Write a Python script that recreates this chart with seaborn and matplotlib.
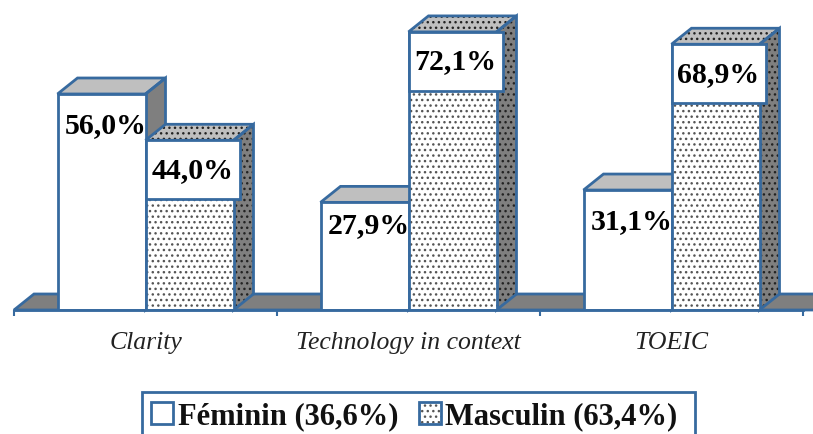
import pandas as pd
import seaborn as sns
import matplotlib.pyplot as plt
from matplotlib.legend_handler import HandlerTuple
from matplotlib.patches import Patch, Polygon, Rectangle

categories = ["Clarity", "Technology in context", "TOEIC"]
feminin = [56.0, 27.9, 31.1]
masculin = [44.0, 72.1, 68.9]
legend_labels = ["Féminin (36,6%)", "Masculin (63,4%)"]

BLUE = "#376A9F"
INK = "#555555"
W, H = 813, 434
PX_X = 263          # pixels per category
PX_Y = 216 / 56.0   # pixels per percent
DX = 20 / PX_X
DY = 16 / PX_Y
DOTS = "..."
LW = 2.0

sns.set_theme(style="white")
plt.rcParams["font.family"] = ["Liberation Serif", "DejaVu Serif"]

df = pd.DataFrame({
    "cat": categories * 2,
    "val": feminin + masculin,
    "genre": ["Féminin"] * 3 + ["Masculin"] * 3,
})

fig = plt.figure(figsize=(W / 100, H / 100), dpi=100)
ax = fig.add_axes([14 / W, (H - 310) / H, 789 / W, 310 / H])

sns.barplot(data=df, x="cat", y="val", hue="genre", order=categories,
            palette=["white", "white"], width=2 * 88 / PX_X, gap=0,
            linewidth=0, edgecolor=INK, legend=False, ax=ax)
ax.set_xlim(-0.5, 2.5)
ax.set_ylim(0, 310 / PX_Y)


def poly(points, color, z, hatch=None):
    ax.add_patch(Polygon(points, closed=True, facecolor=color, edgecolor="#222222",
                         linewidth=0, hatch=hatch, zorder=z, clip_on=False))
    ax.add_patch(Polygon(points, closed=True, fill=False, edgecolor=BLUE,
                         linewidth=LW, joinstyle="miter", zorder=z + 0.1, clip_on=False))


# floor
poly([(-0.5, 0), (-0.5 + DX, DY), (2.5 + 2 * DX, DY), (2.5 + DX, 0)], "#7F7F7F", 1.5)

for level, (cont, hatch) in enumerate(zip(ax.containers, [None, DOTS])):
    z = 2 + 2 * level
    for bar in cont:
        x0, x1, top = bar.get_x(), bar.get_x() + bar.get_width(), bar.get_height()
        poly([(x1, 0), (x1 + DX, DY), (x1 + DX, top + DY), (x1, top)], "#7F7F7F", z, hatch)
        poly([(x0, top), (x0 + DX, top + DY), (x1 + DX, top + DY), (x1, top)], "#BFBFBF", z, hatch)
        bar.set_hatch(hatch)
        bar.set_zorder(z + 0.5)
        ax.add_patch(Rectangle((x0, 0), x1 - x0, top, fill=False, edgecolor=BLUE,
                               linewidth=LW, zorder=z + 0.6))

# data labels
label_font = dict(fontsize=21.5, fontweight="bold", color="black", ha="center",
                  va="center", zorder=9, clip_on=False)
fem_drop = [32, 23, 32]
for bar, v, drop in zip(ax.containers[0], feminin, fem_drop):
    ax.text(bar.get_x() + bar.get_width() / 2 + 4 / PX_X, v - drop / PX_Y,
            f"{v:.1f}%".replace(".", ","), **label_font)
for bar, v in zip(ax.containers[1], masculin):
    x0 = bar.get_x()
    ax.add_patch(Rectangle((x0, v - 59 / PX_Y), 94 / PX_X, 59 / PX_Y, facecolor="white",
                           edgecolor=BLUE, linewidth=LW, zorder=8))
    ax.text(x0 + 47 / PX_X, v - 30 / PX_Y, f"{v:.1f}%".replace(".", ","), **label_font)

# axis
sns.despine(ax=ax, left=True)
ax.spines["bottom"].set_color(BLUE)
ax.spines["bottom"].set_linewidth(LW)
ax.spines["bottom"].set_zorder(7)
ax.set_xlabel("")
ax.set_ylabel("")
ax.set_yticks([])
ax.set_xticks([-0.5, 0.5, 1.5, 2.5], minor=True)
ax.tick_params(axis="x", which="minor", length=4.5, width=1.5, color=BLUE, bottom=True)
ax.tick_params(axis="x", which="major", length=0, pad=16)
for t in ax.get_xticklabels():
    t.set_fontsize(18.5)
    t.set_fontstyle("italic")
    t.set_color("#222222")

# legend, the frame runs off the bottom of the picture
fig.add_artist(Rectangle((142 / W, -0.05), 553 / W, (H - 392) / H + 0.05, fill=False,
                         edgecolor=BLUE, linewidth=LW, transform=fig.transFigure))
h_fem = Patch(facecolor="white", edgecolor=BLUE, linewidth=LW)
h_masc = (Patch(facecolor="white", edgecolor=INK, linewidth=0, hatch=DOTS),
          Patch(fill=False, edgecolor=BLUE, linewidth=LW))
leg = ax.legend([h_fem, h_masc], legend_labels, ncols=2,
                handler_map={tuple: HandlerTuple(ndivide=1, pad=0)},
                loc="upper left", bbox_to_anchor=(151 / W, (H - 402) / H),
                bbox_transform=fig.transFigure, frameon=False,
                borderaxespad=0, borderpad=0,
                handlelength=0.72, handleheight=0.72, handletextpad=0.15,
                columnspacing=0.68, prop={"size": 22, "weight": "bold"})
for t in leg.get_texts():
    t.set_color("#111111")

fig.savefig("out.png", dpi=100)
